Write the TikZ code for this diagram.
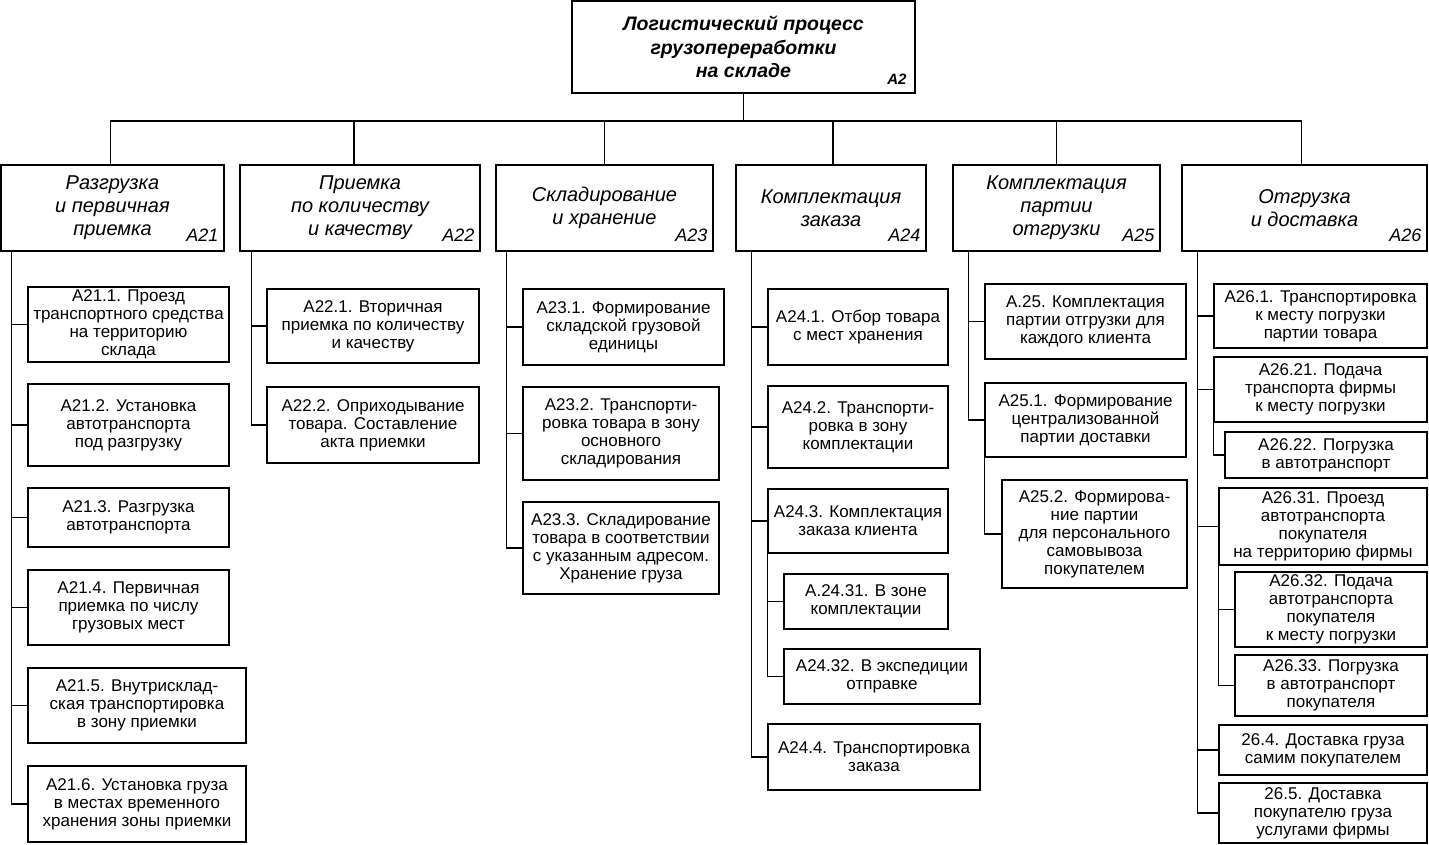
\documentclass[tikz,border=0pt]{standalone}
\usepackage{fontspec}
\setmainfont{Liberation Sans}
\tikzset{
 box/.style={draw, line width=1.3pt, inner sep=0pt, align=center},
 sbox/.style={box, font=\fontsize{17}{18}\selectfont},
 mbox/.style={box, font=\fontsize{20}{23}\selectfont\itshape},
 tbox/.style={box, font=\fontsize{19.5}{23.5}\selectfont\bfseries\itshape},
 lab/.style={anchor=base east, inner sep=0pt, font=\fontsize{18}{20}\selectfont\itshape},
 tlab/.style={anchor=base east, inner sep=0pt, font=\fontsize{15}{17}\selectfont\bfseries\itshape},
 conn/.style={line width=1.3pt},
}
\newcommand\bx[7]{\node[#1, minimum width={#5pt-#3pt}, minimum height={#6pt-#4pt}] (#2) at ({(#3+#5)/2},{(#4+#6)/2}) {#7};}
\begin{document}
\begin{tikzpicture}[x=1pt,y=-1pt]
\useasboundingbox (0,0) rectangle (1429,844);
% top
\bx{tbox}{A2}{572}{1}{915}{93}{Логистический процесс\\грузопереработки\\на складе}
\node[tlab] (lA2) at ([xshift=-9pt,yshift=9pt]A2.south east) {A2};
% level 2
\bx{mbox}{A21}{1}{165}{224}{251}{Разгрузка\\и первичная\\приемка}
\bx{mbox}{A22}{240}{165}{480}{251}{Приемка\\по количеству\\и качеству}
\bx{mbox}{A23}{496}{165}{713}{251}{Складирование\\и хранение}
\bx{mbox}{A24}{736}{165}{926}{251}{Комплектация\\заказа}
\bx{mbox}{A25}{953}{165}{1160}{251}{Комплектация\\партии\\отгрузки}
\bx{mbox}{A26}{1182}{165}{1427}{251}{Отгрузка\\и доставка}
\node[lab] (lA21) at ([xshift=-6pt,yshift=10pt]A21.south east) {A21};
\node[lab] (lA22) at ([xshift=-6pt,yshift=10pt]A22.south east) {A22};
\node[lab] (lA23) at ([xshift=-6pt,yshift=10pt]A23.south east) {A23};
\node[lab] (lA24) at ([xshift=-6pt,yshift=10pt]A24.south east) {A24};
\node[lab] (lA25) at ([xshift=-6pt,yshift=10pt]A25.south east) {A25};
\node[lab] (lA26) at ([xshift=-6pt,yshift=10pt]A26.south east) {A26};
% bus
\coordinate (bus) at (741,121);
\draw[conn] (A2.south) -- (A2.south |- bus);
\draw[conn] ([xshift=-2pt]A21.north) |- ([xshift=-3pt]A26.north |- bus) -- ([xshift=-3pt]A26.north);
\draw[conn] ([xshift=-6pt]A22.north) -- ([xshift=-6pt]A22.north |- bus);
\draw[conn] (A23.north) -- (A23.north |- bus);
\draw[conn] ([xshift=2pt]A24.north) -- ([xshift=2pt]A24.north |- bus);
\draw[conn] (A25.north) -- (A25.north |- bus);
% column 1
\bx{sbox}{A211}{28}{287}{229}{362}{A21.1. Проезд\\транспортного средства\\на территорию\\склада}
\bx{sbox}{A212}{28}{384}{229}{466}{A21.2. Установка\\автотранспорта\\под разгрузку}
\bx{sbox}{A213}{28}{488}{229}{547}{A21.3. Разгрузка\\автотранспорта}
\bx{sbox}{A214}{28}{570}{229}{645}{A21.4. Первичная\\приемка по числу\\грузовых мест}
\bx{sbox}{A215}{28}{668}{246}{743}{A21.5. Внутрисклад-\\ская транспортировка\\в зону приемки}
\bx{sbox}{A216}{28}{766}{246}{842}{A21.6. Установка груза\\в местах временного\\хранения зоны приемки}
\foreach \c in {A211,A212,A213,A214,A215,A216}
  \draw[conn] ([xshift=11pt]A21.south west) |- (\c.west);
% column 2
\bx{sbox}{A221}{267}{289}{479}{363}{A22.1. Вторичная\\приемка по количеству\\и качеству}
\bx{sbox}{A222}{267}{387}{479}{463}{A22.2. Оприходывание\\товара. Составление\\акта приемки}
\foreach \c in {A221,A222}
  \draw[conn] ([xshift=12pt]A22.south west) |- (\c.west);
% column 3
\bx{sbox}{A231}{523}{289}{724}{365}{A23.1. Формирование\\складской грузовой\\единицы}
\bx{sbox}{A232}{523}{387}{719}{480}{A23.2. Транспорти-\\ровка товара в зону\\основного\\складирования}
\bx{sbox}{A233}{523}{502}{719}{594}{A23.3. Складирование\\товара в соответствии\\с указанным адресом.\\Хранение груза}
\foreach \c in {A231,A232,A233}
  \draw[conn] ([xshift=11pt]A23.south west) |- (\c.west);
% column 4
\bx{sbox}{A241}{768}{289}{948}{365}{A24.1. Отбор товара\\с мест хранения}
\bx{sbox}{A242}{768}{386}{948}{468}{A24.2. Транспорти-\\ровка в зону\\комплектации}
\bx{sbox}{A243}{768}{489}{948}{553}{A24.3. Комплектация\\заказа клиента}
\bx{sbox}{A2431}{784}{574}{948}{629}{A.24.31. В зоне\\комплектации}
\bx{sbox}{A2432}{784}{649}{980}{704}{A24.32. В экспедиции\\отправке}
\bx{sbox}{A244}{768}{724}{980}{790}{A24.4. Транспортировка\\заказа}
\foreach \c in {A241,A242,A243,A244}
  \draw[conn] ([xshift=16pt]A24.south west) |- (\c.west);
\foreach \c in {A2431,A2432}
  \draw[conn] (A243.south west) |- (\c.west);
% column 5
\bx{sbox}{A250}{985}{284}{1186}{359}{A.25. Комплектация\\партии отгрузки для\\каждого клиента}
\bx{sbox}{A251}{985}{383}{1186}{457}{A25.1. Формирование\\централизованной\\партии доставки}
\bx{sbox}{A252}{1002}{480}{1187}{588}{A25.2. Формирова-\\ние партии\\для персонального\\самовывоза\\покупателем}
\foreach \c in {A250,A251}
  \draw[conn] ([xshift=16pt]A25.south west) |- (\c.west);
\draw[conn] (A251.south west) |- (A252.west);
% column 6
\bx{sbox}{A261}{1214}{284}{1427}{348}{A26.1. Транспортировка\\к месту погрузки\\партии товара}
\bx{sbox}{A2621}{1214}{357}{1427}{422}{A26.21. Подача\\транспорта фирмы\\к месту погрузки}
\bx{sbox}{A2622}{1225}{432}{1427}{478}{A26.22. Погрузка\\в автотранспорт}
\bx{sbox}{A2631}{1219}{488}{1427}{565}{A26.31. Проезд\\автотранспорта\\покупателя\\на территорию фирмы}
\bx{sbox}{A2632}{1235}{572}{1427}{647}{A26.32. Подача\\автотранспорта\\покупателя\\к месту погрузки}
\bx{sbox}{A2633}{1235}{655}{1427}{716}{A26.33. Погрузка\\в автотранспорт\\покупателя}
\bx{sbox}{A264}{1219}{725}{1427}{775}{26.4. Доставка груза\\самим покупателем}
\bx{sbox}{A265}{1219}{783}{1427}{843}{26.5. Доставка\\покупателю груза\\услугами фирмы}
\foreach \c in {A261,A2621,A2631,A264,A265}
  \draw[conn] ([xshift=16pt]A26.south west) |- (\c.west);
\draw[conn] (A2621.south west) |- (A2622.west);
\foreach \c in {A2632,A2633}
  \draw[conn] (A2631.south west) |- (\c.west);
\end{tikzpicture}
\end{document}
